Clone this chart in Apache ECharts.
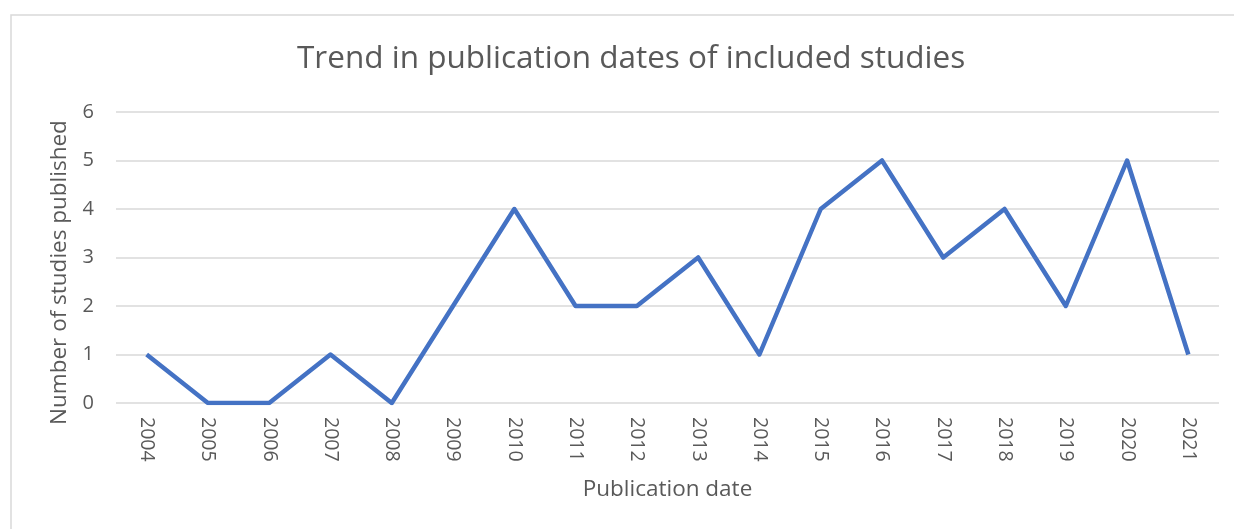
<!DOCTYPE html>
<html>
<head>
<meta charset="utf-8">
<script src="https://cdn.jsdelivr.net/npm/echarts@6/dist/echarts.min.js"></script>
<style>
  html, body { margin: 0; padding: 0; background: #fff; }
  #chart { width: 1234px; height: 529px; }
</style>
</head>
<body>
<div id="chart"></div>
<script>
// publication trend chart

const years = ['2004', '2005', '2006', '2007', '2008', '2009', '2010', '2011', '2012',
    '2013', '2014', '2015', '2016', '2017', '2018', '2019', '2020', '2021'];
const studyCounts = [1, 0, 0, 1, 0, 2, 4, 2, 2, 3, 1, 4, 5, 3, 4, 2, 5, 1];

const chartDom = document.getElementById('chart');
let chart = echarts.init(chartDom);

const textColor = '#595959';
const fontName = 'Open Sans';

let option = {
    animation: false,
    title: {
        text: 'Trend in publication dates of included studies',
        left: 292,
        top: 38,
        textStyle: {
            fontFamily: fontName,
            fontSize: 31.5,
            fontWeight: 'normal',
            color: textColor
        }
    },
    graphic: [
        {
            type: 'rect',
            shape: { x: 11, y: 15, width: 1240, height: 530 },
            style: { fill: 'none', stroke: '#d9d9d9', lineWidth: 1.5 },
            silent: true
        }
    ],
    grid: {
        left: 116,
        right: 15,
        top: 112,
        bottom: 126
    },
    xAxis: {
        type: 'category',
        data: years,
        boundaryGap: true,
        name: 'Publication date',
        nameLocation: 'middle',
        nameGap: 75,
        nameTextStyle: {
            fontFamily: fontName,
            fontSize: 22.5,
            color: textColor
        },
        axisLine: { show: false },
        axisTick: { show: false },
        axisLabel: {
            rotate: -90,
            margin: 14,
            fontFamily: fontName,
            fontSize: 19.5,
            color: textColor
        }
    },
    yAxis: {
        type: 'value',
        min: 0,
        max: 6,
        interval: 1,
        name: 'Number of studies published',
        nameLocation: 'middle',
        nameGap: 45,
        nameTextStyle: {
            fontFamily: fontName,
            fontSize: 22.5,
            color: textColor,
            padding: [0, 30, 0, 0]
        },
        axisLabel: {
            margin: 22,
            fontFamily: fontName,
            fontSize: 20,
            color: textColor
        },
        splitLine: {
            lineStyle: { color: '#d9d9d9', width: 1.5 }
        }
    },
    series: [
        {
            name: 'Studies',
            type: 'line',
            data: studyCounts,
            showSymbol: false,
            lineStyle: { color: '#4472c4', width: 4.5, join: 'round' },
            itemStyle: { color: '#4472c4' }
        }
    ]
};

option && chart.setOption(option);
</script>
</body>
</html>
